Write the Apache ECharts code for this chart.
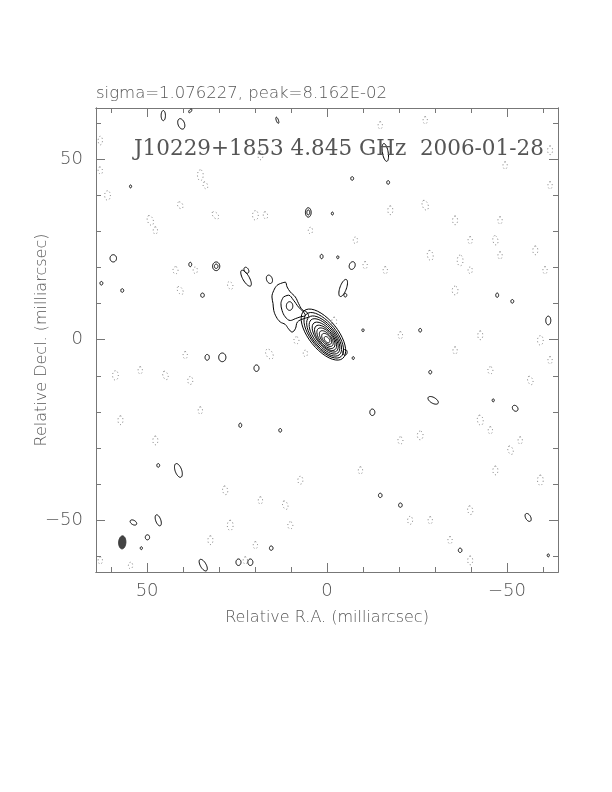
<!DOCTYPE html>
<html><head><meta charset="utf-8">
<script src="https://cdn.jsdelivr.net/npm/echarts@6/dist/echarts.min.js"></script>
<style>html,body{margin:0;padding:0;background:#fff}#c{width:612px;height:792px}</style>
</head><body><div id="c"></div>
<script>
// ---- data (milliarcsec) ----
const raRange = [-64.2, 64.2];
const decRange = [-64.3, 64.1];
const majorTicks = [-50, 0, 50];
const minorTicks = [-60, -40, -30, -20, -10, 10, 20, 30, 40, 60];
const headerText = 'sigma=1.076227, peak=8.162E-02';
const plotLabel = 'J10229+1853 4.845 GHz  2006-01-28';
const xName = 'Relative R.A. (milliarcsec)';
const yName = 'Relative Decl. (milliarcsec)';

// core contours: [ra, dec, semi-major, semi-minor, PA deg]
const coreContours = [
  [1.0, 1.4, 8.5, 4.0, 39],
  [0.9, 1.2, 7.6, 3.5, 39],
  [0.8, 1.0, 6.7, 3.1, 39],
  [0.7, 0.9, 5.9, 2.7, 39],
  [0.5, 0.7, 5.0, 2.3, 39],
  [0.4, 0.5, 4.2, 2.0, 39],
  [0.3, 0.4, 3.4, 1.7, 39],
  [0.2, 0.3, 2.6, 1.3, 39],
  [0.1, 0.2, 1.8, 1.0, 39],
  [0.0, 0.0, 1.0, 0.6, 39]
];
// extended emission, lowest contour
const jetOuter = [[13.0,15.5],[11.6,15.9],[11.1,14.6],[10.2,13.2],[8.8,11.8],[7.9,10.0],[6.9,8.3],[5.6,7.6],[5.1,6.4],[6.5,5.8],[8.2,4.9],[8.8,3.0],[9.7,2.1],[10.7,3.0],[11.6,4.2],[13.0,4.9],[14.1,6.3],[14.8,8.1],[15.0,10.0],[15.3,11.8],[14.8,13.6],[13.9,15.0],[13.0,15.5]];
// extended emission, second contour
const jetInner = [[12.1,11.8],[10.7,12.3],[9.3,10.9],[7.9,9.0],[6.5,7.6],[6.0,6.7],[7.4,6.3],[8.8,5.8],[10.2,5.3],[11.6,6.3],[12.5,8.1],[12.8,10.0],[12.1,11.8]];

// positive noise contours: [ra, dec, semi-major, semi-minor, PA]
const posBlobs = [
  [45.5,62.0,1.4,0.6,0],[40.5,59.7,1.5,0.9,20],[38.0,63.3,0.6,0.3,-40],[13.8,60.7,0.9,0.3,20],
  [-16.2,51.8,2.5,0.8,10],[-17.0,43.5,0.5,0.4,0],[-7.0,44.6,0.5,0.4,0],[5.2,35.2,1.3,0.8,0],[5.2,35.2,0.7,0.4,0],
  [-1.5,34.9,0.4,0.3,0],[54.6,42.4,0.4,0.3,0],[59.4,22.5,1.0,0.9,0],[56.9,13.6,0.5,0.4,0],[62.7,15.6,0.5,0.4,0],
  [38.0,20.8,0.6,0.4,0],[30.8,20.3,1.2,1.0,0],[30.8,20.3,0.6,0.5,0],[22.4,19.2,0.9,0.6,30],[22.5,17.0,2.5,0.9,30],
  [16.0,16.7,1.2,0.8,20],[-7.0,20.5,1.1,0.8,-20],[-5.1,12.3,0.5,0.4,0],[-4.5,14.3,2.5,0.9,-20],[1.5,23.0,0.6,0.4,0],
  [-3.0,22.8,0.4,0.3,0],[-5.0,-3.5,0.8,0.6,0],[-7.3,-5.1,0.4,0.3,0],[-10.0,2.6,0.4,0.3,0],
  [34.6,12.3,0.6,0.5,0],[29.1,-4.9,1.2,1.0,0],[33.3,-4.9,0.8,0.6,0],[19.6,-7.9,0.9,0.7,0],
  [-25.9,2.6,0.5,0.4,0],[-28.7,-9.0,0.5,0.4,0],[-47.3,12.3,0.6,0.4,0],[-51.5,10.6,0.5,0.4,0],[-61.5,5.3,1.2,0.7,0],
  [-29.5,-16.8,1.6,0.8,60],[-12.6,-20.1,0.9,0.7,0],[-52.3,-19.0,0.9,0.7,40],[-46.2,-16.8,0.4,0.3,0],
  [24.1,-23.7,0.6,0.4,0],[13.0,-25.1,0.5,0.4,0],[41.3,-36.2,2.0,0.9,20],[46.9,-34.8,0.5,0.4,0],
  [46.9,-50.0,1.6,0.7,20],[53.8,-50.6,1.0,0.6,60],[49.9,-54.7,0.7,0.6,0],[51.6,-57.7,0.4,0.3,0],
  [34.4,-62.4,1.8,0.8,30],[24.6,-61.6,0.9,0.7,0],[21.3,-61.6,0.9,0.7,0],[15.5,-57.7,0.6,0.5,0],
  [-55.9,-49.2,1.2,0.7,30],[-61.5,-59.7,0.4,0.3,0],[-14.8,-43.1,0.6,0.5,0],[-20.4,-45.8,0.6,0.5,0],[-37.0,-58.3,0.6,0.5,0]
];
// negative contours (dotted): [ra, dec, semi-major, semi-minor, PA]
const negBlobs = [
  [63.0,55.1,1.2,0.6,0],[63.0,46.8,1.0,0.6,10],[61.0,39.9,1.3,0.8,0],[40.8,37.2,1.0,0.7,30],[49.1,33.0,1.4,0.8,20],
  [47.7,30.2,1.0,0.6,0],[31.0,34.4,1.2,0.7,40],[35.2,45.5,1.5,0.8,0],[33.8,42.7,1.0,0.6,20],[42.1,19.2,1.0,0.7,0],
  [40.8,13.6,1.2,0.7,30],[36.6,19.2,0.9,0.6,0],[26.9,15.0,1.1,0.7,20],[19.9,34.4,1.3,0.8,0],[17.1,34.4,1.0,0.6,10],
  [4.6,30.2,0.9,0.6,0],[-10.6,20.6,1.0,0.6,0],[-17.6,35.8,1.2,0.7,0],[-27.3,37.2,1.4,0.8,20],[-35.6,33.0,1.2,0.7,0],
  [-28.7,23.3,1.4,0.8,10],[-37.0,21.9,1.5,0.8,0],[-39.8,27.5,1.0,0.6,0],[-46.8,27.5,1.3,0.7,10],[-48.1,23.3,1.0,0.6,0],
  [-35.6,13.6,1.2,0.8,0],[-39.8,19.2,0.9,0.6,0],[-48.1,33.0,1.0,0.6,0],[-59.3,-0.2,1.3,0.8,0],[-62.0,-5.7,1.0,0.6,0],
  [-56.5,-11.3,1.2,0.7,20],[-45.4,-8.5,1.0,0.7,0],[-42.6,-22.3,1.4,0.8,10],[-45.4,-25.1,1.0,0.6,0],[-51.0,-30.6,1.2,0.7,20],
  [-53.7,-27.9,1.0,0.6,0],[-46.8,-36.2,1.2,0.7,0],[-59.3,-38.9,1.4,0.8,0],[-39.8,-47.2,1.2,0.7,10],[-34.2,-55.5,1.0,0.6,0],
  [-39.8,-61.1,1.2,0.7,0],[-20.4,-27.9,1.0,0.7,0],[-25.9,-26.5,1.2,0.8,0],[-9.3,-36.2,1.0,0.6,0],[7.4,-38.9,1.1,0.7,0],
  [11.6,-45.8,1.2,0.7,20],[18.5,-44.5,1.0,0.6,0],[28.3,-41.7,1.2,0.7,10],[26.9,-51.4,1.4,0.8,0],[22.7,-61.1,1.0,0.6,0],
  [32.4,-55.5,1.2,0.7,0],[19.9,-56.9,1.0,0.6,0],[10.2,-51.4,1.0,0.7,0],[47.7,-27.9,1.2,0.7,0],[58.8,-9.9,1.3,0.8,0],
  [51.9,-8.5,1.0,0.6,0],[44.9,-9.9,1.2,0.7,20],[39.4,-4.3,1.0,0.6,0],[38.0,-11.3,1.1,0.7,0],[35.2,-19.6,1.0,0.6,0],
  [57.4,-22.3,1.2,0.7,0],[54.6,-62.5,0.9,0.6,0],[63.0,-61.1,1.0,0.6,0],[-42.6,1.2,1.2,0.7,0],[-35.6,-3.0,1.0,0.6,0],
  [18.5,51.0,1.2,0.7,0],[-16.2,19.2,1.0,0.6,0],[-7.9,27.5,0.9,0.6,0],[8.5,-0.2,1.0,0.7,0],[6.0,-3.8,0.9,0.6,0],
  [-20.4,1.2,1.0,0.6,0],[-23.1,-50.0,1.1,0.7,0],[-28.7,-50.0,1.0,0.6,0],[-57.9,24.7,1.2,0.7,0],[-62.0,52.4,1.2,0.7,0],
  [-27.3,60.7,1.0,0.6,0],[-49.5,48.2,1.0,0.6,0],[-62.0,42.7,1.0,0.6,0],[-60.6,19.2,1.0,0.6,0],[-14.8,59.3,1.0,0.6,0],
  [16.0,-4.0,1.5,0.9,30],[-2.0,5.0,1.2,0.7,0]
];
// restoring beam: [ra, dec, semi-major, semi-minor, PA]
const beam = [[56.9, -56.1, 1.8, 1.0, -3]];

// ---- rendering ----
function ellipseRenderer(stroke, dash, fill) {
  return function (params, api) {
    const ra0 = api.value(0), de0 = api.value(1), a = api.value(2), b = api.value(3);
    const pa = api.value(4) * Math.PI / 180;
    const pts = [];
    const n = 40;
    for (let i = 0; i < n; i++) {
      const t = i / n * 2 * Math.PI;
      const ra = ra0 + a * Math.cos(t) * Math.sin(pa) + b * Math.sin(t) * Math.cos(pa);
      const de = de0 + a * Math.cos(t) * Math.cos(pa) - b * Math.sin(t) * Math.sin(pa);
      pts.push(api.coord([ra, de]));
    }
    return { type: 'polygon', shape: { points: pts },
      style: { fill: fill || 'none', stroke: stroke, lineWidth: 1, lineDash: dash || null } };
  };
}
function ellSeries(data, stroke, dash, fill) {
  return { type: 'custom', coordinateSystem: 'cartesian2d', clip: true, silent: true,
    dimensions: ['ra', 'dec', 'a', 'b', 'pa'], encode: { x: 0, y: 1 },
    renderItem: ellipseRenderer(stroke, dash, fill), data: data, animation: false };
}
function polySeries(data) {
  return { type: 'line', data: data, smooth: 0.4, symbol: 'none', silent: true, animation: false,
    lineStyle: { color: '#000', width: 1 } };
}
const axisCol = '#777';
const fmt = v => v < 0 ? '\u2212' + Math.abs(v) : String(v);
function xAx(pos, ticks, len, label) {
  const o = { type: 'value', min: raRange[0], max: raRange[1], inverse: true, position: pos,
    axisLine: { show: true, onZero: false, lineStyle: { color: axisCol, width: 1 } },
    axisTick: { show: true, inside: true, length: len, customValues: ticks, lineStyle: { color: axisCol } },
    axisLabel: { show: label, customValues: ticks, formatter: fmt, margin: 10,
      fontFamily: 'DejaVu Sans', fontSize: 18, fontWeight: 200, color: '#555' },
    splitLine: { show: false } };
  if (label) {
    o.name = xName; o.nameLocation = 'middle'; o.nameGap = 38; o.nameMoveOverlap = false;
    o.nameTextStyle = { fontFamily: 'DejaVu Sans', fontSize: 16, fontWeight: 200, color: '#555' };
  }
  return o;
}
function yAx(pos, ticks, len, label) {
  const o = { type: 'value', min: decRange[0], max: decRange[1], position: pos,
    axisLine: { show: true, onZero: false, lineStyle: { color: axisCol, width: 1 } },
    axisTick: { show: true, inside: true, length: len, customValues: ticks, lineStyle: { color: axisCol } },
    axisLabel: { show: label, customValues: ticks, formatter: fmt, margin: 13,
      fontFamily: 'DejaVu Sans', fontSize: 18, fontWeight: 200, color: '#555' },
    splitLine: { show: false } };
  if (label) {
    o.name = yName; o.nameLocation = 'middle'; o.nameGap = 46; o.nameRotate = 90; o.nameMoveOverlap = false;
    o.nameTextStyle = { fontFamily: 'DejaVu Sans', fontSize: 16, fontWeight: 200, color: '#555' };
  }
  return o;
}

const chart = echarts.init(document.getElementById('c'), null, { renderer: 'canvas' });
const series = [];
series.push(ellSeries(negBlobs, '#777', [1, 2.5]));
series.push(ellSeries(posBlobs, '#000'));
series.push(polySeries(jetOuter));
series.push(polySeries(jetInner));
series.push(ellSeries([[10.4, 9.3, 1.2, 0.9, 0]], '#000'));
series.push(ellSeries(coreContours, '#000'));
series.push(ellSeries(beam, '#333', null, '#444'));

chart.setOption({
  backgroundColor: '#fff',
  animation: false,
  title: [
    { text: headerText, left: 91, top: 80,
      textStyle: { fontFamily: 'DejaVu Sans', fontSize: 16.5, fontWeight: 200, color: '#555' } },
    { text: plotLabel, left: 129, top: 133,
      textStyle: { fontFamily: 'DejaVu Serif', fontSize: 21.5, fontWeight: 200, color: '#555' } }
  ],
  grid: { left: 96, right: 54, top: 108, bottom: 220, containLabel: false },
  xAxis: [ xAx('bottom', majorTicks, 9, true), xAx('bottom', minorTicks, 5, false),
           xAx('top', majorTicks, 9, false), xAx('top', minorTicks, 5, false) ],
  yAxis: [ yAx('left', majorTicks, 9, true), yAx('left', minorTicks, 5, false),
           yAx('right', majorTicks, 9, false), yAx('right', minorTicks, 5, false) ],
  series: series
});
</script></body></html>
